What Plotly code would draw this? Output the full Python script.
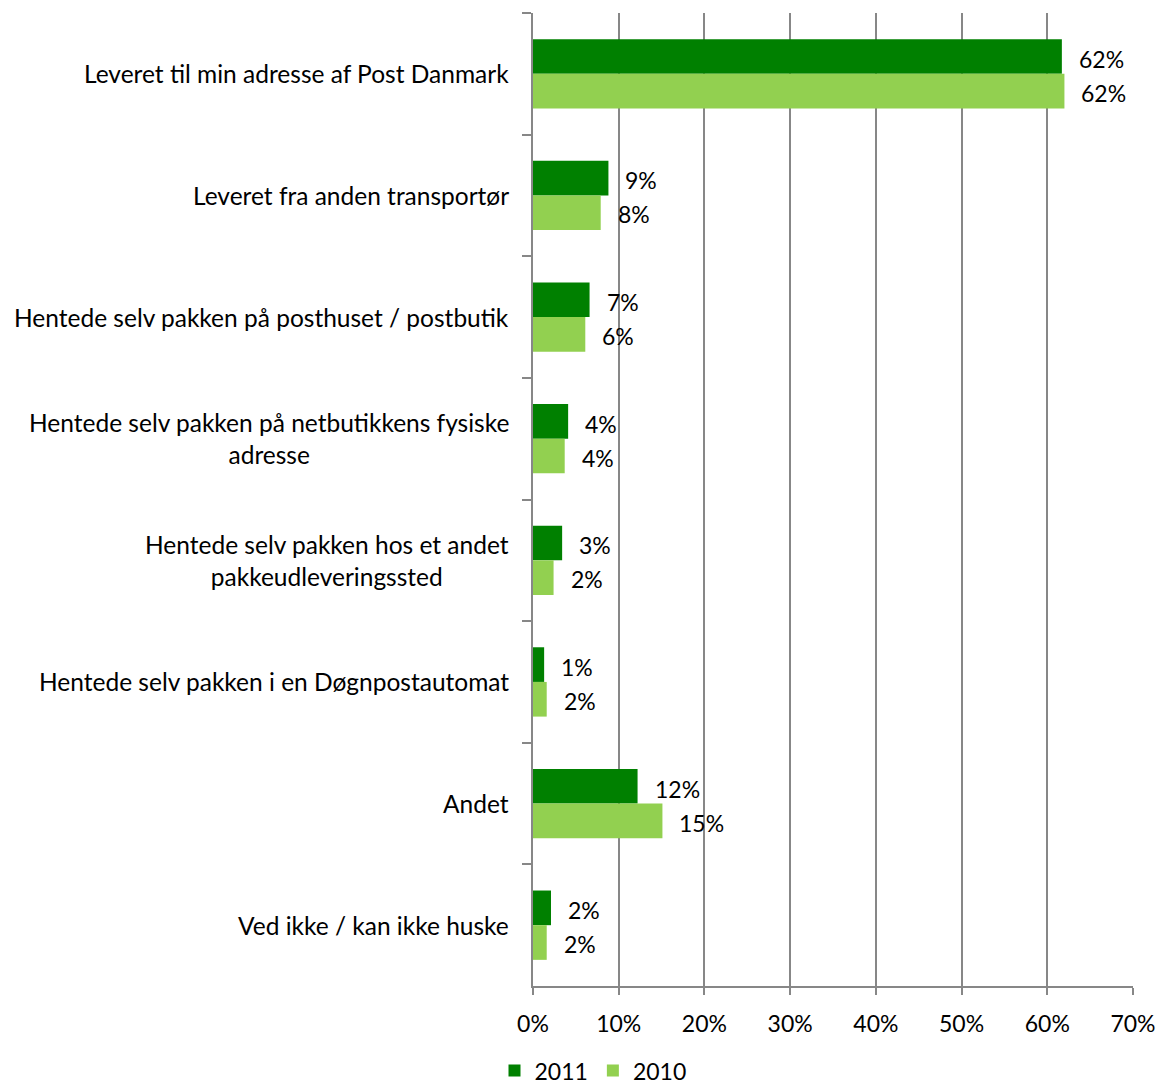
import plotly.graph_objects as go

categories = [
    "Leveret til min adresse af Post Danmark",
    "Leveret fra anden transportør",
    "Hentede selv pakken på posthuset / postbutik",
    "Hentede selv pakken på netbutikkens fysiske<br>adresse",
    "Hentede selv pakken hos et andet<br>pakkeudleveringssted",
    "Hentede selv pakken i en Døgnpostautomat",
    "Andet",
    "Ved ikke / kan ikke huske",
]
values_2011 = [61.7, 8.8, 6.6, 4.1, 3.4, 1.3, 12.2, 2.1]
values_2010 = [62.0, 7.9, 6.1, 3.7, 2.4, 1.6, 15.1, 1.6]
labels_2011 = ["62%", "9%", "7%", "4%", "3%", "1%", "12%", "2%"]
labels_2010 = ["62%", "8%", "6%", "4%", "2%", "2%", "15%", "2%"]
x_ticks = [0, 10, 20, 30, 40, 50, 60, 70]
x_tick_labels = ["0%", "10%", "20%", "30%", "40%", "50%", "60%", "70%"]

FONT = "Lato"
FS = 23
FS_CAT = 24.5
DARK = "#008000"
LIGHT = "#92D050"
GRID = "#878787"

fig = go.Figure()
fig.add_trace(go.Bar(y=categories, x=values_2011, name="2011", orientation="h",
                     marker=dict(color=DARK, line=dict(width=0))))
fig.add_trace(go.Bar(y=categories, x=values_2010, name="2010", orientation="h",
                     marker=dict(color=LIGHT, line=dict(width=0))))

ann = []
for c, v, l in zip(categories, values_2011, labels_2011):
    ann.append(dict(x=v, y=c, xref="x", yref="y", text=l, showarrow=False,
                    xanchor="left", yanchor="middle", xshift=15, yshift=15,
                    font=dict(family=FONT, size=FS, color="black")))
for c, v, l in zip(categories, values_2010, labels_2010):
    ann.append(dict(x=v, y=c, xref="x", yref="y", text=l, showarrow=False,
                    xanchor="left", yanchor="middle", xshift=15, yshift=-19,
                    font=dict(family=FONT, size=FS, color="black")))
for c in categories:
    ann.append(dict(x=0, y=c, xref="paper", yref="y", text=c, showarrow=False,
                    xanchor="right", yanchor="middle", align="center", xshift=-22,
                    font=dict(family=FONT, size=FS_CAT, color="black")))

fig.update_layout(
    width=1200, height=1120,
    margin=dict(l=525, r=75, t=5, b=142),
    paper_bgcolor="white", plot_bgcolor="white",
    barmode="group", bargap=0.43, bargroupgap=0,
    font=dict(family=FONT, size=FS, color="black"),
    showlegend=True,
    legend=dict(orientation="h", x=0.1, xanchor="center", y=-0.087, yanchor="middle",
                font=dict(family=FONT, size=FS, color="black"), itemwidth=30,
                traceorder="normal"),
    annotations=ann,
)
fig.update_xaxes(range=[0, 70], tickvals=x_ticks, ticktext=x_tick_labels,
                 showgrid=True, gridcolor=GRID, gridwidth=1.5,
                 showline=True, linecolor=GRID, linewidth=1.5,
                 ticks="outside", ticklen=7, tickcolor=GRID, tickwidth=1.5,
                 ticklabelstandoff=10, zeroline=False,
                 tickfont=dict(family=FONT, size=FS, color="black"))
fig.update_yaxes(autorange="reversed", showticklabels=False, showgrid=False,
                 showline=True, linecolor=GRID, linewidth=1.5,
                 ticks="outside", tickson="boundaries", ticklen=9, tickcolor=GRID, tickwidth=1.5)

fig.write_html("out.html")
